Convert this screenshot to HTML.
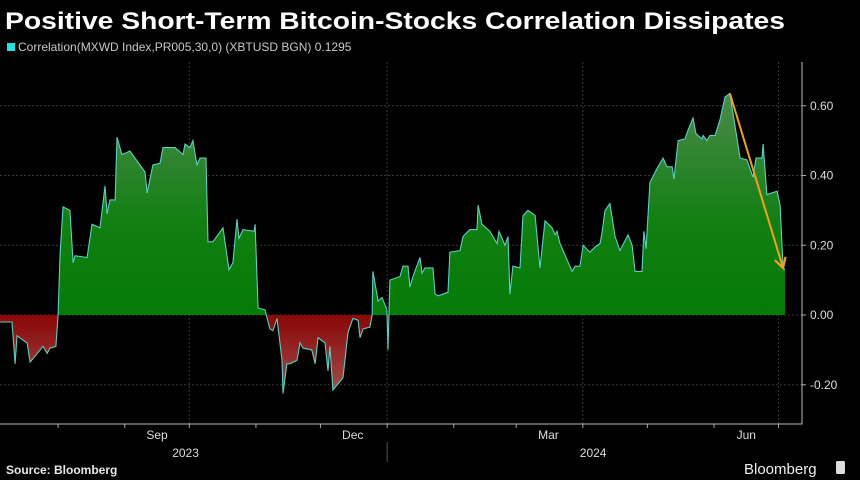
<!DOCTYPE html>
<html><head><meta charset="utf-8"><style>
html,body{margin:0;padding:0;background:#000;}
svg{display:block;font-family:"Liberation Sans",sans-serif;}
</style></head><body>
<svg id="chart" width="860" height="480" viewBox="0 0 860 480" xmlns="http://www.w3.org/2000/svg">
<defs>
<linearGradient id="gg" x1="0" y1="0" x2="0" y2="1" gradientUnits="userSpaceOnUse" x1p="0">
</linearGradient>
</defs>
<rect width="860" height="480" fill="#000"/>
<text x="5" y="29" fill="#fff" font-size="24" font-weight="bold" textLength="780" lengthAdjust="spacingAndGlyphs">Positive Short-Term Bitcoin-Stocks Correlation Dissipates</text>
<rect x="7" y="43" width="8" height="8" fill="#27e0e0"/>
<text x="18" y="51" fill="#c8c8c8" font-size="12">Correlation(MXWD Index,PR005,30,0) (XBTUSD BGN) 0.1295</text>
<g id="grid"></g>
<g id="marks"></g>
<g id="axes"></g>
<text x="6" y="474" fill="#e8e8e8" font-size="12" font-weight="bold">Source: Bloomberg</text>
<text x="744" y="474" fill="#eee" font-size="15">Bloomberg</text>
<rect x="836" y="461" width="9" height="13" rx="1.5" fill="#ddd"/>
</svg>
<script>
// day offsets from 2023-07-05
const days = [0,5.6,7,7.9,12.6,14,20,21.9,23.2,26,27,27.9,29.3,32.5,34,34.9,40.5,42.8,46.5,48.8,49.8,51.1,53.5,54.4,56.7,60.4,67.4,68.4,71.1,74.4,75.8,81.4,85.1,86,88.3,89.7,91.6,93,95.8,96.7,99,103.7,106.5,108.3,110.2,111.1,113,118.1,118.6,120,123.2,125.5,126.9,128.8,131.1,131.6,133.4,134.8,138.1,139.5,140.9,145,146.5,147.9,151.1,152.5,153.4,154.8,159.5,161.8,164.1,166.5,167.4,168.8,172,173,173.4,175.8,177.6,179.9,180.4,181.3,186,187.4,189.7,190.6,192,195.3,196.2,197.6,201.3,202.3,203.7,208.3,209.2,213.9,215.3,218.5,221.8,222.3,224.1,227.8,231.1,232,234.8,236.2,237.1,238.5,241.8,243.2,245.5,248.8,251.1,253.4,256.7,258.1,259,260.4,265,266,267.4,269.7,271.1,274.3,276.7,279,279.9,281.3,283.6,286,288.3,292,293.9,295.3,298.5,299.4,300.4,302.2,305.5,308.3,310.1,312.5,313.4,315.3,318.5,319.9,322.2,323.6,326.4,326.9,328.7,330.1,332.5,334.8,337.1,339.4,344.1,347.3,350.1,351.5,354.3,354.8,356.6,361.3,362.7,364.1,365];
const values = [-0.02,-0.02,-0.14,-0.06,-0.08,-0.135,-0.09,-0.11,-0.095,-0.09,0,0.17,0.31,0.30,0.15,0.17,0.165,0.26,0.25,0.37,0.29,0.33,0.33,0.51,0.46,0.47,0.41,0.35,0.43,0.435,0.48,0.48,0.46,0.49,0.48,0.50,0.43,0.45,0.45,0.21,0.21,0.25,0.13,0.15,0.275,0.22,0.245,0.24,0.26,0.02,0.015,-0.04,-0.045,-0.01,-0.13,-0.225,-0.14,-0.14,-0.13,-0.08,-0.095,-0.10,-0.14,-0.065,-0.08,-0.16,-0.09,-0.215,-0.18,-0.05,-0.01,-0.015,-0.065,-0.04,-0.035,0,0.125,0.04,0.05,0.015,-0.10,0.10,0.11,0.14,0.14,0.08,0.11,0.165,0.12,0.135,0.135,0.06,0.055,0.065,0.18,0.185,0.225,0.245,0.245,0.315,0.26,0.24,0.205,0.24,0.20,0.225,0.06,0.14,0.135,0.285,0.30,0.285,0.135,0.27,0.25,0.23,0.24,0.205,0.14,0.125,0.14,0.14,0.20,0.18,0.195,0.205,0.235,0.30,0.32,0.225,0.185,0.23,0.20,0.125,0.125,0.24,0.19,0.38,0.42,0.45,0.425,0.425,0.39,0.50,0.505,0.53,0.565,0.52,0.505,0.515,0.50,0.515,0.515,0.56,0.625,0.635,0.45,0.445,0.395,0.45,0.45,0.49,0.345,0.355,0.315,0.135,0.13];
const yTicks = [-0.2,0,0.2,0.4,0.6];
const yTickLabels = ["-0.20","0.00","0.20","0.40","0.60"];
const monthLabels = ["Sep","Dec","Mar","Jun"];
const monthLabelDates = ["2023-09-01","2023-12-01","2024-03-01","2024-06-01"];
const yearLabels = ["2023","2024"];
const arrowFrom = [339.4, 0.635];
const arrowTo = [364.1, 0.135];

const NS="http://www.w3.org/2000/svg";
const start = Date.UTC(2023,6,5);
const dayOf = s => (Date.parse(s+"T00:00:00Z")-start)/86400000;
const X0=0, PXD=785/365;
const x = d => X0 + d*PXD;
const y = v => 315 - v*348.75;
const svg=document.getElementById('chart');
function mk(tag, attrs, parent){const e=document.createElementNS(NS,tag);for(const k in attrs)e.setAttribute(k,attrs[k]);(parent||svg).appendChild(e);return e;}
const defs=svg.querySelector('defs');
defs.innerHTML='<linearGradient id="gG" gradientUnits="userSpaceOnUse" x1="0" y1="'+y(0.65)+'" x2="0" y2="'+y(0)+'"><stop offset="0" stop-color="#4f8a4f"/><stop offset="0.6" stop-color="#117f11"/><stop offset="1" stop-color="#067a06"/></linearGradient>'+
'<linearGradient id="gR" gradientUnits="userSpaceOnUse" x1="0" y1="'+y(0)+'" x2="0" y2="'+y(-0.23)+'"><stop offset="0" stop-color="#8a0606"/><stop offset="1" stop-color="#a05050"/></linearGradient>'+
'<clipPath id="cpPos"><rect x="0" y="0" width="860" height="'+y(0)+'"/></clipPath><clipPath id="cpNeg"><rect x="0" y="'+y(0)+'" width="860" height="200"/></clipPath>'+
'<marker id="ah" viewBox="0 0 10 10" refX="8" refY="5" markerWidth="7" markerHeight="7" orient="auto"><path d="M1,1 L8,5 L1,9" fill="none" stroke="#f0a020" stroke-width="1.6"/></marker>';
const grid=document.getElementById('grid'), marks=document.getElementById('marks'), axes=document.getElementById('axes');
// horizontal gridlines
yTicks.forEach((t,i)=>{
  const g=mk('line',{x1:0,x2:802,y1:y(t),y2:y(t),stroke:'#3a3a3a','stroke-dasharray':'2,2','stroke-width':1},grid);
  
  
  const tk=mk('line',{x1:802,x2:806,y1:y(t),y2:y(t),stroke:'#aaa'},axes);
  
  
  const lb=mk('text',{x:810,y:y(t)+4,fill:'#ddd','font-size':12},axes);
  lb.textContent=yTickLabels[i];
  
  
});
// month ticks & quarter gridlines
for(let m=7;m<=18;m++){
  const yr=2023+Math.floor(m/12), mo=m%12;
  const d=(Date.UTC(yr,mo,1)-start)/86400000;
  const t=mk('line',{x1:x(d),x2:x(d),y1:424,y2:428,stroke:'#aaa'},axes);
  
  
  if(mo%3===0){
    const g=mk('line',{x1:x(d),x2:x(d),y1:62,y2:424,stroke:'#3a3a3a','stroke-dasharray':'2,2'},grid);
    
    
  }
}
monthLabels.forEach((l,i)=>{
  const d=dayOf(monthLabelDates[i]);
  const tx=mk('text',{x:x(d+15),y:439,fill:'#ddd','font-size':12,'text-anchor':'middle'},axes);
  tx.textContent=l;
  
  
});
const jan=dayOf("2024-01-01");
const ys=mk('line',{x1:x(jan),x2:x(jan),y1:442,y2:462,stroke:'#555'},axes);


[[x(jan)/2-8,yearLabels[0]],[x(jan)+206,yearLabels[1]]].forEach(p=>{
  const tx=mk('text',{x:p[0],y:457,fill:'#ddd','font-size':12,'text-anchor':'middle'},axes);
  tx.textContent=p[1];
  
  
});
const ax=mk('path',{d:'M0,424 H802 V62',fill:'none',stroke:'#bbb','stroke-width':1},axes);


// area
let lp='';
days.forEach((d,i)=>{lp+=(i?'L':'M')+x(d).toFixed(1)+','+y(values[i]).toFixed(1);});
const ap=lp+'L'+x(days[days.length-1]).toFixed(1)+','+y(0)+'L'+x(days[0])+','+y(0)+'Z';
const pos=mk('path',{d:ap,fill:'url(#gG)','clip-path':'url(#cpPos)'},marks);


const neg=mk('path',{d:ap,fill:'url(#gR)','clip-path':'url(#cpNeg)'},marks);


const ln=mk('path',{d:lp,fill:'none',stroke:'#5ccfc4','stroke-width':1.1},marks);


const ar=mk('line',{x1:x(arrowFrom[0]),y1:y(arrowFrom[1]),x2:x(arrowTo[0]),y2:y(arrowTo[1]),stroke:'#f0a020','stroke-width':2,'marker-end':'url(#ah)'},marks);


</script>
</body></html>
